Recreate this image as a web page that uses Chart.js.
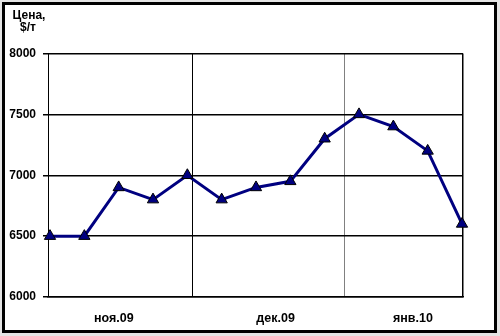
<!DOCTYPE html>
<html>
<head>
<meta charset="utf-8">
<script src="https://cdn.jsdelivr.net/npm/chart.js@4.4.1/dist/chart.umd.min.js"></script>
<style>
  html, body { margin: 0; padding: 0; background: #e4e4e4; }
  #wrap { position: relative; width: 500px; height: 336px; }
  #bg { position: absolute; left: 2px; top: 2px; width: 489px; height: 325px; background: #fff; border: 3px solid #000; }
  canvas { position: absolute; left: 0; top: 0; }
</style>
</head>
<body>
<div id="wrap">
  <div id="bg"></div>
  <canvas id="c" width="500" height="336"></canvas>
</div>
<script>
// ---- data ----
const weeks = ['2009-11-02','2009-11-09','2009-11-16','2009-11-23','2009-11-30','2009-12-07','2009-12-14','2009-12-21','2009-12-28','2010-01-04','2010-01-11','2010-01-18','2010-01-25'];
const prices = [6500, 6500, 6900, 6800, 7000, 6800, 6900, 6950, 7300, 7500, 7400, 7200, 6600];
const monthStarts = ['2009-12-01', '2010-01-01'];
const monthLabelDates = ['2009-11-15', '2009-12-18', '2010-01-15'];
const monthLabels = ['ноя.09', 'дек.09', 'янв.10'];
const yTicks = [6000, 6500, 7000, 7500, 8000];
const titleLines = ['Цена,', '$/т'];

// ---- helpers ----
const DAY = 86400000;
const t0 = Date.parse(weeks[0]);
const toDay = s => (Date.parse(s) - t0) / DAY;
const points = weeks.map((w, i) => ({ x: toDay(w), y: prices[i] }));
const gridDays = monthStarts.map(toDay);
const labelDays = monthLabelDates.map(toDay);
const lastDay = toDay(weeks[weeks.length - 1]);
const xMin = -0.41, xMax = lastDay + 0.2;

const FONT = "'Liberation Sans', Arial, sans-serif";

const titlePlugin = {
  id: 'ytitle',
  afterDraw(chart) {
    const ctx = chart.ctx;
    ctx.save();
    ctx.fillStyle = '#000';
    ctx.font = 'bold 12px ' + FONT;
    ctx.textAlign = 'center';
    ctx.textBaseline = 'middle';
    ctx.fillText(titleLines[0], 29, 16);
    ctx.fillText(titleLines[1], 28, 28);
    ctx.restore();
  }
};

new Chart(document.getElementById('c'), {
  type: 'line',
  data: {
    datasets: [{
      data: points,
      clip: false,
      borderColor: '#000080',
      borderWidth: 3,
      backgroundColor: '#000080',
      pointStyle: 'triangle',
      pointRadius: 6.5,
      pointBackgroundColor: '#000080',
      pointBorderColor: '#000',
      pointBorderWidth: 1,
      tension: 0,
      fill: false
    }]
  },
  options: {
    responsive: false,
    animation: false,
    events: [],
    layout: { padding: { left: 0, right: 37, top: 53.5, bottom: 0 } },
    plugins: { legend: { display: false }, tooltip: { enabled: false } },
    scales: {
      x: {
        type: 'linear',
        min: xMin,
        max: xMax,
        afterBuildTicks(scale) {
          const t = [];
          gridDays.forEach(v => t.push({ value: v, kind: 'grid' }));
          labelDays.forEach((v, i) => t.push({ value: v, kind: 'label', idx: i }));
          t.push({ value: xMax, kind: 'edge' });
          t.sort((a, b) => a.value - b.value);
          scale.ticks = t;
        },
        afterFit(scale) { scale.height = 39; },
        ticks: {
          autoSkip: false,
          maxRotation: 0,
          padding: 14,
          color: '#000',
          font: { family: FONT, size: 12.5, weight: 'bold' },
          callback(value, index, ticks) {
            const tk = ticks[index];
            return tk && tk.kind === 'label' ? monthLabels[tk.idx] : '';
          }
        },
        grid: {
          drawTicks: false,
          lineWidth: ctx => (ctx.tick && ctx.tick.kind === 'edge') ? 1.5 : 1,
          color: ctx => {
            const tk = ctx.tick;
            if (!tk) return 'transparent';
            if (tk.kind === 'edge') return '#000';
            if (tk.kind === 'grid') return tk.value === gridDays[0] ? '#000' : '#808080';
            return 'transparent';
          }
        },
        border: { display: true, color: '#000', width: 1.5 }
      },
      y: {
        min: 6000,
        max: 8000,
        afterBuildTicks(scale) { scale.ticks = yTicks.map(v => ({ value: v })); },
        afterFit(scale) { scale.width = 48; },
        ticks: {
          padding: 7,
          color: '#000',
          font: { family: FONT, size: 12, weight: 'bold' },
          callback: v => String(v)
        },
        grid: { color: '#000', lineWidth: 1.5, tickLength: 5, drawTicks: true },
        border: { display: true, color: '#000', width: 1 }
      }
    }
  },
  plugins: [titlePlugin]
});
</script>
</body>
</html>
